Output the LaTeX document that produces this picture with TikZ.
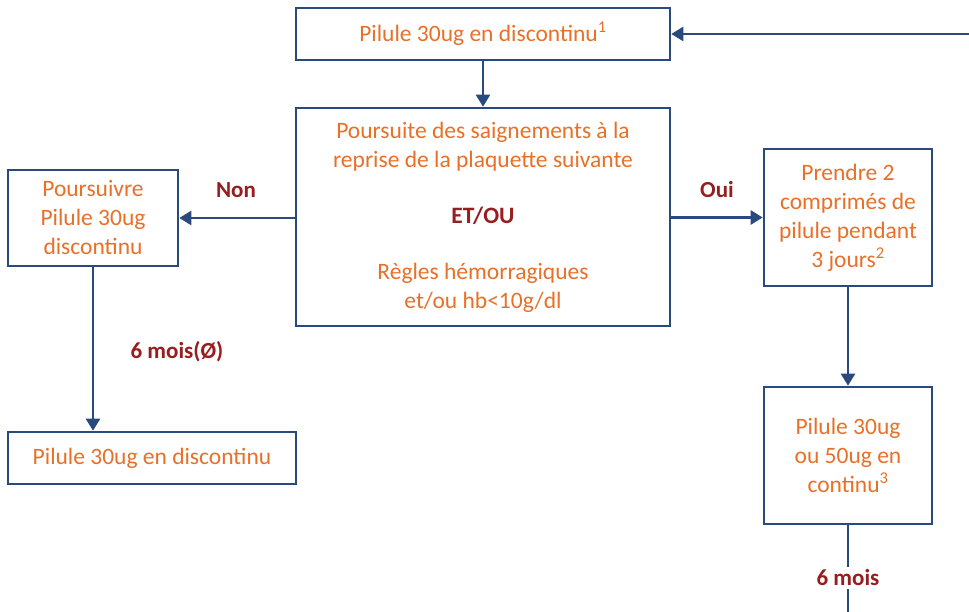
\documentclass[tikz,border=0pt]{standalone}
\usepackage{fontspec}
\setmainfont{Carlito}
\usetikzlibrary{arrows.meta}
\definecolor{boxblue}{RGB}{41,74,125}
\definecolor{txtorange}{RGB}{232,112,40}
\definecolor{lblred}{RGB}{150,30,30}

\begin{document}
\begin{tikzpicture}[x=1pt,y=1pt,
  stepbox/.style={draw=boxblue,line width=2.6pt,fill=white,inner sep=0pt,align=center,
    text=txtorange,font=\fontsize{23.5}{29}\selectfont},
  lbl/.style={text=lblred,font=\fontsize{23}{26}\selectfont\bfseries},
  arr/.style={draw=boxblue,line width=2.6pt,-{Triangle[length=12pt,width=14pt]}}]
\useasboundingbox (0,0) rectangle (969,612);
% boxes
\node[stepbox,minimum width=374pt,minimum height=52pt] (top) at (483,578) {Pilule 30ug en discontinu\textsuperscript{1}};
\node[stepbox,minimum width=374pt,minimum height=218pt] (mid) at (483,395)
  {Poursuite des saignements à la\\reprise de la plaquette suivante\\[27pt]%
   {\color{lblred}\bfseries ET/OU}\\[27pt]Règles hémorragiques\\et/ou hb<10g/dl};
\node[stepbox,minimum width=170pt,minimum height=96pt] (left) at (93,394) {Poursuivre\\Pilule 30ug\\discontinu};
\node[stepbox,minimum width=168pt,minimum height=137pt] (right) at (848,394.5)
  {Prendre 2\\comprimés de\\pilule pendant\\3 jours\textsuperscript{2}};
\node[stepbox,minimum width=288pt,minimum height=52pt] (bleft) at (152,154) {Pilule 30ug en discontinu};
\node[stepbox,minimum width=168pt,minimum height=137pt] (bright) at (848,156.5)
  {Pilule 30ug\\ou 50ug en\\continu\textsuperscript{3}};
\coordinate (back) at (969,578);
\coordinate (down) at (848,0);
% connectors
\draw[arr] (back) -- (top.east);
\draw[arr] (top.south) -- (mid.north);
\draw[arr] (mid.west |- left.east) -- (left.east);
\draw[arr] (mid.east |- right.west) -- (right.west);
\draw[arr] (left.south) -- (bleft.north -| left.south);
\draw[arr] (right.south) -- (bright.north);
\draw[draw=boxblue,line width=2.6pt] (bright.south) -- (down);
% labels
\node[lbl] (non) at (236,422) {Non};
\node[lbl] (oui) at (717,422) {Oui};
\node[lbl] (sixa) at (177,260) {6 mois(Ø)};
\node[lbl,fill=white,inner sep=3pt] (sixb) at (848,34) {6 mois};
\end{tikzpicture}
\end{document}
